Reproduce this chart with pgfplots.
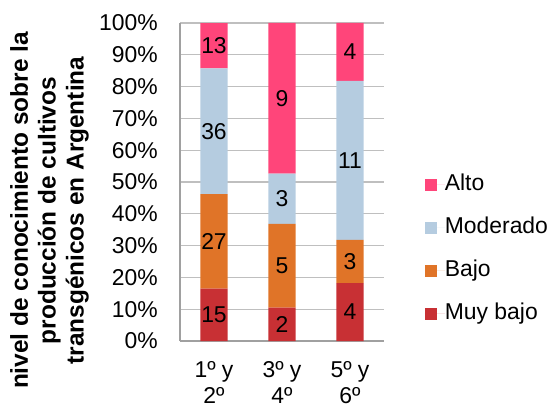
\documentclass[border=0pt]{standalone}
\usepackage{pgfplots}
\usepackage{pgfplotstable}
\pgfplotsset{compat=1.18}
\usepackage{fontspec}
\setmainfont{Liberation Sans}
\definecolor{cAlto}{RGB}{255,69,122}
\definecolor{cMod}{RGB}{181,204,224}
\definecolor{cBajo}{RGB}{224,116,40}
\definecolor{cMuy}{RGB}{200,48,52}
\definecolor{cGrid}{RGB}{191,191,191}
\definecolor{cAxis}{RGB}{160,160,160}

\pgfplotstableread{
x mb b m a
0 15 27 36 13
1 2 5 3 9
2 4 3 11 4
}\data

\newcommand{\tot}{(\thisrow{mb}+\thisrow{b}+\thisrow{m}+\thisrow{a})}

\pgfplotsset{
  base/.style={
    scale only axis, width=204bp, height=318bp,
    xmin=-0.5, xmax=2.5, ymin=0, ymax=100,
    /pgf/number format/assume math mode=true,
  }
}

\begin{document}
\begin{tikzpicture}
\useasboundingbox (-180bp,-66bp) rectangle (373bp,341bp);
\begin{axis}[base,
  at={(0,0)}, anchor=south west,
  ybar stacked, bar width=0.4,
  axis x line*=bottom, axis y line*=left,
  axis line style={cAxis, line width=1.2bp},
  ymajorgrids, grid style={cGrid, line width=1.2bp},
  ytick={0,10,...,100},
  xtick={0,1,2},
  xticklabels={{1º y\\2º},{3º y\\4º},{5º y\\6º}},
  major tick length=0pt,
  yticklabel={\pgfmathprintnumber{\tick}\%},
  yticklabel style={font=\fontsize{23}{27}\selectfont, inner sep=0pt, anchor=east, xshift=-22bp},
  xticklabel style={font=\fontsize{23}{26}\selectfont, align=center, inner sep=0pt, anchor=north, yshift=-20bp},
  ylabel={nivel de conocimiento sobre la\\producción de cultivos\\transgénicos en Argentina},
  ylabel style={font=\bfseries\fontsize{24.5}{28}\selectfont, align=center, at={(axis description cs:-0.64,0.41)}, anchor=center, rotate=0},
  legend style={draw=none, fill=none, at={(axis description cs:1.502,0.288)}, anchor=center,
    font=\fontsize{23}{27}\selectfont, row sep=22bp,
    nodes={inner sep=0pt, text height=16bp, text depth=5bp}},
  legend cell align=left,
  reverse legend,
  legend image code/.code={\fill[#1] (0bp,-6bp) rectangle (12bp,6bp); \path (0bp,0bp) -- (20bp,0bp);},
]
\addplot[fill=cMuy, draw=none] table[x=x, y expr={\thisrow{mb}/\tot*100}] {\data};
\addlegendentry{Muy bajo}
\addplot[fill=cBajo, draw=none] table[x=x, y expr={\thisrow{b}/\tot*100}] {\data};
\addlegendentry{Bajo}
\addplot[fill=cMod, draw=none] table[x=x, y expr={\thisrow{m}/\tot*100}] {\data};
\addlegendentry{Moderado}
\addplot[fill=cAlto, draw=none] table[x=x, y expr={\thisrow{a}/\tot*100}] {\data};
\addlegendentry{Alto}
\end{axis}
\begin{axis}[base, at={(0,0)}, anchor=south west, hide axis,
  nodes near coords, point meta=explicit,
  every node near coord/.append style={anchor=center, font=\fontsize{23}{27}\selectfont, inner sep=0pt},
  nodes near coords align={center},
]
\addplot[draw=none, mark=none] table[x=x, y expr={(\thisrow{mb}/2)/\tot*100}, meta=mb] {\data};
\addplot[draw=none, mark=none] table[x=x, y expr={(\thisrow{mb}+\thisrow{b}/2)/\tot*100}, meta=b] {\data};
\addplot[draw=none, mark=none] table[x=x, y expr={(\thisrow{mb}+\thisrow{b}+\thisrow{m}/2)/\tot*100}, meta=m] {\data};
\addplot[draw=none, mark=none] table[x=x, y expr={(\thisrow{mb}+\thisrow{b}+\thisrow{m}+\thisrow{a}/2)/\tot*100}, meta=a] {\data};
\end{axis}
\end{tikzpicture}
\end{document}
